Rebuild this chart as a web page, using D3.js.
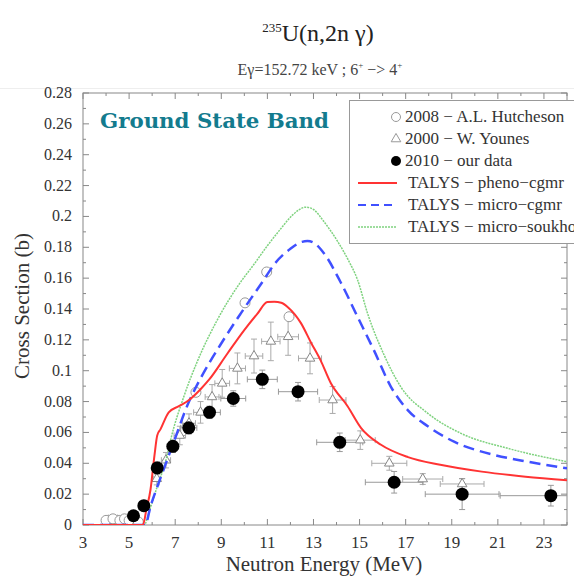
<!DOCTYPE html>
<html>
<head>
<meta charset="utf-8">
<script src="https://cdn.jsdelivr.net/npm/d3@7"></script>
<style>
  body { margin: 0; background: #fff; }
  svg { display: block; }
  text { font-family: "Liberation Serif", "Times New Roman", serif; fill: #333; }
</style>
</head>
<body>
<svg width="574" height="578"></svg>
<script>
// --- data ---
// 2010 - our data: [E, sigma, dE, dSigma]
var ourData = [
  [5.19, 0.006, 0.12, 0.002], [5.64, 0.0125, 0.15, 0.002], [6.22, 0.037, 0.2, 0.004],
  [6.9, 0.051, 0.25, 0.004], [7.59, 0.063, 0.35, 0.004], [8.49, 0.073, 0.47, 0.004],
  [9.52, 0.082, 0.54, 0.005], [10.78, 0.0944, 0.65, 0.006], [12.33, 0.0864, 0.85, 0.006],
  [14.14, 0.0536, 1.0, 0.006], [16.5, 0.0277, 1.25, 0.007], [19.45, 0.02, 1.6, 0.01],
  [23.3, 0.019, 2.2, 0.0067]
];
// 2000 - W. Younes: [E, sigma, dE, dSigma]
var younes = [
  [4.1, 0.003, 0.1, 0.001], [4.5, 0.003, 0.1, 0.001], [4.9, 0.002, 0.1, 0.001], [5.3, 0.003, 0.1, 0.001],
  [6.2, 0.03, 0.15, 0.004], [6.6, 0.042, 0.2, 0.005], [7.2, 0.058, 0.25, 0.006],
  [7.6, 0.066, 0.28, 0.006], [8.1, 0.073, 0.3, 0.007], [8.6, 0.083, 0.3, 0.008],
  [9.04, 0.0918, 0.32, 0.009], [9.7, 0.1015, 0.35, 0.01], [10.42, 0.1095, 0.38, 0.011],
  [11.15, 0.119, 0.4, 0.0125], [11.9, 0.122, 0.45, 0.012], [12.85, 0.108, 0.5, 0.01],
  [13.83, 0.081, 0.58, 0.0087], [15.03, 0.055, 0.65, 0.006], [16.29, 0.04, 0.76, 0.0045],
  [17.74, 0.0298, 0.87, 0.0035], [19.45, 0.0266, 0.95, 0.0035]
];
// 2008 - A.L. Hutcheson: [E, sigma]
var hutcheson = [
  [4.0, 0.003], [4.3, 0.004], [4.6, 0.003], [4.8, 0.004], [5.0, 0.003], [5.4, 0.002],
  [7.9, 0.086], [10.03, 0.144], [10.97, 0.164], [11.94, 0.135]
];
// TALYS curves: [E, sigma]
var phenoCgmr = [
  [3, 0], [5.6, 0], [5.75, 0.01], [5.93, 0.023], [6.1, 0.045], [6.22, 0.058], [6.36, 0.062],
  [6.72, 0.073], [7.16, 0.077], [7.6, 0.081], [8.1, 0.088], [8.46, 0.094], [9.26, 0.111],
  [9.98, 0.126], [10.57, 0.137], [11.0, 0.1445], [11.3, 0.1447], [11.6, 0.144], [11.9, 0.141],
  [12.45, 0.131], [12.9, 0.118], [13.3, 0.107], [13.75, 0.092], [14.48, 0.077], [15.06, 0.063],
  [15.93, 0.052], [17.1, 0.044], [18.5, 0.039], [20.3, 0.0346], [22.2, 0.0313], [24, 0.029]
];
var microCgmr = [
  [3, 0], [5.7, 0], [5.93, 0.012], [6.4, 0.032], [6.87, 0.051], [7.6, 0.08], [8.1, 0.095],
  [8.97, 0.117], [9.84, 0.137], [10.85, 0.159], [11.3, 0.169], [12.0, 0.179], [12.5, 0.1835],
  [12.74, 0.184], [13.0, 0.183], [13.46, 0.176], [14.19, 0.157], [14.91, 0.135], [15.63, 0.113],
  [16.36, 0.0896], [17.09, 0.0745], [17.96, 0.064], [19.1, 0.054], [20.85, 0.0454],
  [22.3, 0.041], [24, 0.0367]
];
var microSoukho = [
  [3, 0], [5.65, 0], [5.9, 0.01], [6.2, 0.024], [6.65, 0.045], [6.8, 0.055], [7.37, 0.083],
  [7.96, 0.106], [8.83, 0.133], [9.77, 0.156], [10.42, 0.169], [11.0, 0.181], [11.58, 0.192],
  [12.1, 0.201], [12.67, 0.206], [13.0, 0.2045], [13.46, 0.1965], [14.04, 0.184], [14.5, 0.172],
  [14.91, 0.159], [15.35, 0.137], [16.07, 0.11], [16.8, 0.0893], [17.96, 0.0724],
  [19.4, 0.0594], [21.43, 0.0497], [24, 0.041]
];
var xTicks = [3, 5, 7, 9, 11, 13, 15, 17, 19, 21, 23];
var yTicks = [0, 0.02, 0.04, 0.06, 0.08, 0.1, 0.12, 0.14, 0.16, 0.18, 0.2, 0.22, 0.24, 0.26, 0.28];
var legendLabels = ["2008 \u2212 A.L. Hutcheson", "2000 \u2212 W. Younes", "2010 \u2212 our data",
  "TALYS \u2212 pheno\u2212cgmr", "TALYS \u2212 micro\u2212cgmr", "TALYS \u2212 micro\u2212soukho"];

var svg = d3.select("svg"),
  pLeft = 83, pRight = 567, pTop = 93, pBottom = 525;

var x = d3.scaleLinear().domain([3, 24]).range([pLeft, pRight]);
var y = d3.scaleLinear().domain([0, 0.28]).range([pBottom, pTop]);

// title
var title = svg.append("text").attr("x", 318).attr("y", 41).attr("text-anchor", "middle")
  .style("font-size", "24px").style("fill", "#222");
title.append("tspan").text("235").style("font-size", "13px").attr("dy", "-9");
title.append("tspan").text("U(n,2n \u03b3)").attr("dy", "9");

var sub = svg.append("text").attr("x", 320).attr("y", 75).attr("text-anchor", "middle")
  .style("font-size", "16px").style("fill", "#444");
sub.append("tspan").text("E\u03b3=152.72 keV ; 6");
sub.append("tspan").text("+").style("font-size", "9px").attr("dy", "-7");
sub.append("tspan").text(" \u2212> 4").attr("dy", "7");
sub.append("tspan").text("+").style("font-size", "9px").attr("dy", "-7");

svg.append("line").attr("x1", 0).attr("x2", 574).attr("y1", 88.5).attr("y2", 88.5)
  .attr("stroke", "#eee");

// frame
svg.append("rect").attr("x", pLeft).attr("y", pTop).attr("width", pRight - pLeft)
  .attr("height", pBottom - pTop).attr("fill", "none").attr("stroke", "#888");

// ticks (inward on all sides)
var g = svg.append("g").attr("stroke", "#888");
d3.range(3, 24.01, 1).forEach(function(v) {
  var len = (v % 2 === 1) ? 6 : 3;
  g.append("line").attr("x1", x(v)).attr("x2", x(v)).attr("y1", pBottom).attr("y2", pBottom - len);
  g.append("line").attr("x1", x(v)).attr("x2", x(v)).attr("y1", pTop).attr("y2", pTop + len);
});
d3.range(0, 28.01, 1).forEach(function(i) {
  var v = i / 100, len = (i % 2 === 0) ? 6 : 3;
  g.append("line").attr("y1", y(v)).attr("y2", y(v)).attr("x1", pLeft).attr("x2", pLeft + len);
  g.append("line").attr("y1", y(v)).attr("y2", y(v)).attr("x1", pRight).attr("x2", pRight - len);
});

svg.selectAll(".xt").data(xTicks).enter().append("text")
  .attr("x", d => x(d)).attr("y", 548).attr("text-anchor", "middle")
  .style("font-size", "17px").text(d => d);
svg.selectAll(".yt").data(yTicks).enter().append("text")
  .attr("x", 72).attr("y", d => y(d) + 5).attr("text-anchor", "end")
  .style("font-size", "16px").text(d => +d.toFixed(2));

svg.append("text").attr("x", 324).attr("y", 571).attr("text-anchor", "middle")
  .style("font-size", "21px").text("Neutron Energy (MeV)");
svg.append("text").attr("transform", "translate(29,306) rotate(-90)").attr("text-anchor", "middle")
  .style("font-size", "21px").text("Cross Section (b)");

// plot content, clipped
svg.append("clipPath").attr("id", "clip").append("rect")
  .attr("x", pLeft).attr("y", pTop).attr("width", pRight - pLeft).attr("height", pBottom - pTop);
var plot = svg.append("g").attr("clip-path", "url(#clip)");

var line = d3.line().x(d => x(d[0])).y(d => y(d[1])).curve(d3.curveMonotoneX);

function errorBars(data, color) {
  var eb = plot.append("g").attr("stroke", color).attr("stroke-width", 1);
  data.forEach(function(d) {
    var cx = x(d[0]), cy = y(d[1]);
    var x0 = x(d[0] - d[2]), x1 = x(d[0] + d[2]), y0 = y(d[1] - d[3]), y1 = y(d[1] + d[3]);
    eb.append("line").attr("x1", x0).attr("x2", x1).attr("y1", cy).attr("y2", cy);
    eb.append("line").attr("x1", cx).attr("x2", cx).attr("y1", y0).attr("y2", y1);
    eb.append("line").attr("x1", x0).attr("x2", x0).attr("y1", cy - 3).attr("y2", cy + 3);
    eb.append("line").attr("x1", x1).attr("x2", x1).attr("y1", cy - 3).attr("y2", cy + 3);
    eb.append("line").attr("x1", cx - 3).attr("x2", cx + 3).attr("y1", y0).attr("y2", y0);
    eb.append("line").attr("x1", cx - 3).attr("x2", cx + 3).attr("y1", y1).attr("y2", y1);
  });
}

errorBars(younes, "#aaa");
errorBars(ourData, "#999");

var tri = d3.symbol().type(d3.symbolTriangle).size(40);
plot.selectAll(".tri").data(younes).enter().append("path")
  .attr("d", tri).attr("transform", d => "translate(" + x(d[0]) + "," + y(d[1]) + ")")
  .attr("fill", "#fff").attr("stroke", "#888").attr("stroke-width", 1);

plot.selectAll(".hut").data(hutcheson).enter().append("circle")
  .attr("cx", d => x(d[0])).attr("cy", d => y(d[1])).attr("r", 5)
  .attr("fill", "#fff").attr("stroke", "#999").attr("stroke-width", 1);

plot.append("path").datum(microSoukho).attr("d", line).attr("fill", "none")
  .attr("stroke", "#7fd27f").attr("stroke-width", 1.5).attr("stroke-dasharray", "2,1");
plot.append("path").datum(microCgmr).attr("d", line).attr("fill", "none")
  .attr("stroke", "#4050ff").attr("stroke-width", 2.5).attr("stroke-dasharray", "11,6");
plot.append("path").datum(phenoCgmr).attr("d", line).attr("fill", "none")
  .attr("stroke", "#ff3333").attr("stroke-width", 2);

plot.selectAll(".our").data(ourData).enter().append("circle")
  .attr("cx", d => x(d[0])).attr("cy", d => y(d[1])).attr("r", 6.5)
  .attr("fill", "#000");

// Ground State Band label
svg.append("text").attr("x", 100).attr("y", 128)
  .attr("textLength", 229).attr("lengthAdjust", "spacingAndGlyphs")
  .style("font-family", "'DejaVu Serif', serif").style("font-weight", "bold")
  .style("font-size", "21px").style("fill", "#137b8e").text("Ground State Band");

// legend
var lg = svg.append("g");
lg.append("rect").attr("x", 349.5).attr("y", 100.5).attr("width", 240).attr("height", 143)
  .attr("fill", "#fff").attr("stroke", "#999");
var rowY = d3.range(6).map(i => 117 + i * 22);
lg.selectAll(".lt").data(legendLabels).enter().append("text")
  .attr("x", (d, i) => i < 3 ? 405 : 408).attr("y", (d, i) => rowY[i] + 5)
  .style("font-size", "17px").text(d => d);
lg.append("circle").attr("cx", 396).attr("cy", rowY[0]).attr("r", 4.5)
  .attr("fill", "#fff").attr("stroke", "#999");
lg.append("path").attr("d", tri).attr("transform", "translate(396," + rowY[1] + ")")
  .attr("fill", "#fff").attr("stroke", "#999");
lg.append("circle").attr("cx", 396).attr("cy", rowY[2]).attr("r", 5).attr("fill", "#000");
lg.append("line").attr("x1", 358).attr("x2", 397).attr("y1", rowY[3]).attr("y2", rowY[3])
  .attr("stroke", "#ff3333").attr("stroke-width", 2);
lg.append("line").attr("x1", 358).attr("x2", 397).attr("y1", rowY[4]).attr("y2", rowY[4])
  .attr("stroke", "#4050ff").attr("stroke-width", 2).attr("stroke-dasharray", "8,5");
lg.append("line").attr("x1", 358).attr("x2", 397).attr("y1", rowY[5]).attr("y2", rowY[5])
  .attr("stroke", "#7fd27f").attr("stroke-width", 1.5).attr("stroke-dasharray", "2,1");
</script>
</body>
</html>
